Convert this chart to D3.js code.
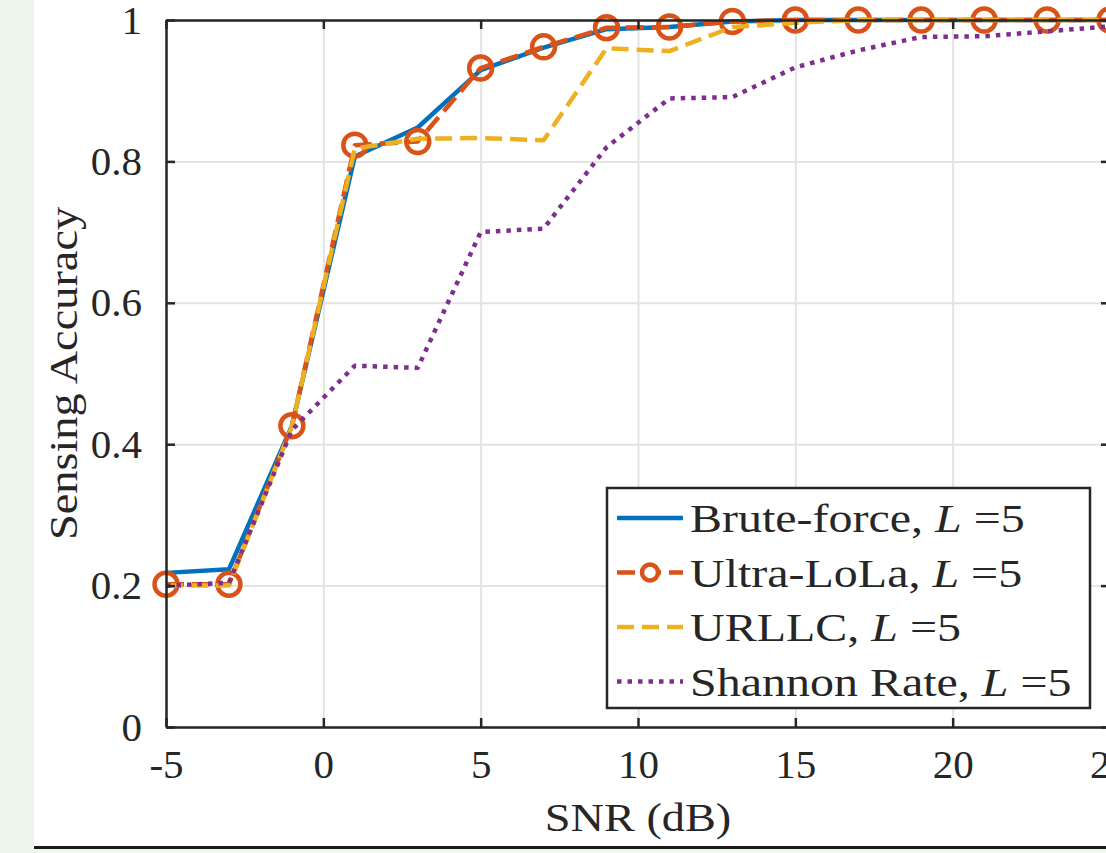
<!DOCTYPE html>
<html>
<head>
<meta charset="utf-8">
<script src="https://cdn.jsdelivr.net/npm/d3@7"></script>
<style>
  html, body { margin: 0; padding: 0; background: #eef5ea; }
  svg { display: block; }
  text { font-family: "Liberation Serif", "DejaVu Serif", serif; fill: #262626; }
</style>
</head>
<body>
<svg id="chart" width="1106" height="853"></svg>
<script>
// data
const snr = [-5, -3, -1, 1, 3, 5, 7, 9, 11, 13, 15, 17, 19, 21, 23, 25];
const bruteForce = [0.218, 0.223, 0.426, 0.807, 0.848, 0.929, 0.961, 0.987, 0.990, 0.998, 1, 1, 1, 1, 1, 1];
const ultraLoLa = [0.202, 0.202, 0.426, 0.823, 0.828, 0.932, 0.962, 0.989, 0.990, 0.998, 1, 1, 1, 1, 1, 1];
const urllc = [0.2, 0.2, 0.425, 0.818, 0.832, 0.833, 0.830, 0.960, 0.956, 0.990, 0.996, 1, 1, 1, 1, 1];
const shannon = [0.2, 0.204, 0.42, 0.511, 0.508, 0.700, 0.705, 0.820, 0.889, 0.891, 0.933, 0.957, 0.976, 0.977, 0.984, 0.991];

const xTicks = [-5, 0, 5, 10, 15, 20, 25];
const yTicks = [0, 0.2, 0.4, 0.6, 0.8, 1];
const seriesNames = ['Brute-force, ', 'Ultra-LoLa, ', 'URLLC, ', 'Shannon Rate, '];

const margin = { top: 20, right: -4, bottom: 126, left: 166 };
const W = 1106, H = 853;
const fontSize = 41;
// the original uses a LaTeX font, wider than Times: stretch letter text a bit
const stretch = 1.13;
const legendStretch = 1.17;

const svg = d3.select('#chart');

// page background: green strip at left and bottom, white panel
svg.append('rect').attr('x', 0).attr('y', 0).attr('width', W).attr('height', H).attr('fill', '#eef5ea');
svg.append('rect').attr('x', 34).attr('y', 0).attr('width', W - 34).attr('height', 846).attr('fill', '#ffffff');
svg.append('rect').attr('x', 34).attr('y', 846).attr('width', W - 34).attr('height', 3).attr('fill', '#1a1a1a');

const x = d3.scaleLinear().domain([-5, 25]).range([margin.left, W - margin.right]);
const y = d3.scaleLinear().domain([0, 1]).range([H - margin.bottom, margin.top]);

const plotW = x.range()[1] - x.range()[0];
const plotH = y.range()[0] - y.range()[1];

function widen(sel, k = stretch) {
  const w = sel.node().getComputedTextLength();
  sel.attr('textLength', w * k).attr('lengthAdjust', 'spacingAndGlyphs');
}

// gridlines
const gx = svg.append('g')
  .attr('transform', `translate(0,${y(0)})`)
  .call(d3.axisBottom(x).tickValues(xTicks).tickSize(-plotH).tickFormat(''));
const gy = svg.append('g')
  .attr('transform', `translate(${x(-5)},0)`)
  .call(d3.axisLeft(y).tickValues(yTicks).tickSize(-plotW).tickFormat(''));
[gx, gy].forEach((g) => {
  g.select('.domain').remove();
  g.selectAll('.tick line').attr('stroke', '#e3e3e3').attr('stroke-width', 2);
});

// series
const line = d3.line().x((d) => x(d[0])).y((d) => y(d[1]));
const zip = (vals) => snr.map((s, i) => [s, vals[i]]);

const styles = [
  { color: '#0072BD', dash: null, width: 4.5 },
  { color: '#D95319', dash: '18,8', width: 4.5, marker: true },
  { color: '#EDB120', dash: '17,8', width: 4.5 },
  { color: '#7E2F8E', dash: '4.5,6', width: 4.5 },
];
const seriesData = [bruteForce, ultraLoLa, urllc, shannon];

seriesData.forEach((vals, i) => {
  const st = styles[i];
  svg.append('path')
    .datum(zip(vals))
    .attr('d', line)
    .attr('fill', 'none')
    .attr('stroke', st.color)
    .attr('stroke-width', st.width)
    .attr('stroke-dasharray', st.dash)
    .attr('stroke-linejoin', 'round');
  if (st.marker) {
    svg.append('g').selectAll('circle')
      .data(zip(vals))
      .join('circle')
      .attr('cx', (d) => x(d[0]))
      .attr('cy', (d) => y(d[1]))
      .attr('r', 11.5)
      .attr('fill', 'none')
      .attr('stroke', st.color)
      .attr('stroke-width', 4.5);
  }
});

// axes box with inward ticks
const axisColor = '#262626';
const tickLen = 9;
function styleAxis(g) {
  g.select('.domain').attr('stroke', axisColor).attr('stroke-width', 2.5);
  g.selectAll('.tick line').attr('stroke', axisColor).attr('stroke-width', 2.5);
  g.selectAll('.tick text').attr('font-size', fontSize).attr('fill', axisColor)
    .style('font-family', '"Liberation Serif", serif');
}
const xAxis = svg.append('g')
  .attr('transform', `translate(0,${y(0)})`)
  .call(d3.axisBottom(x).tickValues(xTicks).tickSizeInner(-tickLen).tickSizeOuter(0)
    .tickPadding(22).tickFormat((d) => String(d)));
styleAxis(xAxis);
const xTop = svg.append('g')
  .attr('transform', `translate(0,${y(1)})`)
  .call(d3.axisTop(x).tickValues(xTicks).tickSizeInner(-tickLen).tickSizeOuter(0).tickFormat(''));
styleAxis(xTop);
const yAxis = svg.append('g')
  .attr('transform', `translate(${x(-5)},0)`)
  .call(d3.axisLeft(y).tickValues(yTicks).tickSizeInner(-tickLen).tickSizeOuter(0)
    .tickPadding(24).tickFormat((d) => String(d)));
styleAxis(yAxis);
const yRight = svg.append('g')
  .attr('transform', `translate(${x(25)},0)`)
  .call(d3.axisRight(y).tickValues(yTicks).tickSizeInner(-tickLen).tickSizeOuter(0).tickFormat(''));
styleAxis(yRight);

// axis titles
svg.append('text')
  .attr('x', (x.range()[0] + x.range()[1]) / 2)
  .attr('y', 831)
  .attr('text-anchor', 'middle')
  .attr('font-size', fontSize)
  .text('SNR (dB)')
  .call(widen);
svg.append('text')
  .attr('transform', `translate(77,${(y.range()[0] + y.range()[1]) / 2}) rotate(-90)`)
  .attr('text-anchor', 'middle')
  .attr('font-size', fontSize)
  .text('Sensing Accuracy')
  .call(widen);

// legend
const legend = svg.append('g').attr('transform', 'translate(607,488)');
legend.append('rect')
  .attr('width', 483).attr('height', 220)
  .attr('fill', '#ffffff')
  .attr('stroke', axisColor).attr('stroke-width', 2.5);
seriesNames.forEach((name, i) => {
  const st = styles[i];
  const ly = 30 + i * 54.5;
  legend.append('line')
    .attr('x1', 10).attr('x2', 76).attr('y1', ly).attr('y2', ly)
    .attr('stroke', st.color).attr('stroke-width', st.width)
    .attr('stroke-dasharray', st.dash);
  if (st.marker) {
    legend.append('circle').attr('cx', 43).attr('cy', ly).attr('r', 8)
      .attr('fill', '#ffffff').attr('stroke', st.color).attr('stroke-width', 4.5);
  }
  const t = legend.append('text')
    .attr('x', 83).attr('y', ly + 14)
    .attr('font-size', fontSize);
  t.append('tspan').text(name);
  t.append('tspan').attr('font-style', 'italic').text('L');
  t.append('tspan').text(' =5');
  widen(t, legendStretch);
});
</script>
</body>
</html>
